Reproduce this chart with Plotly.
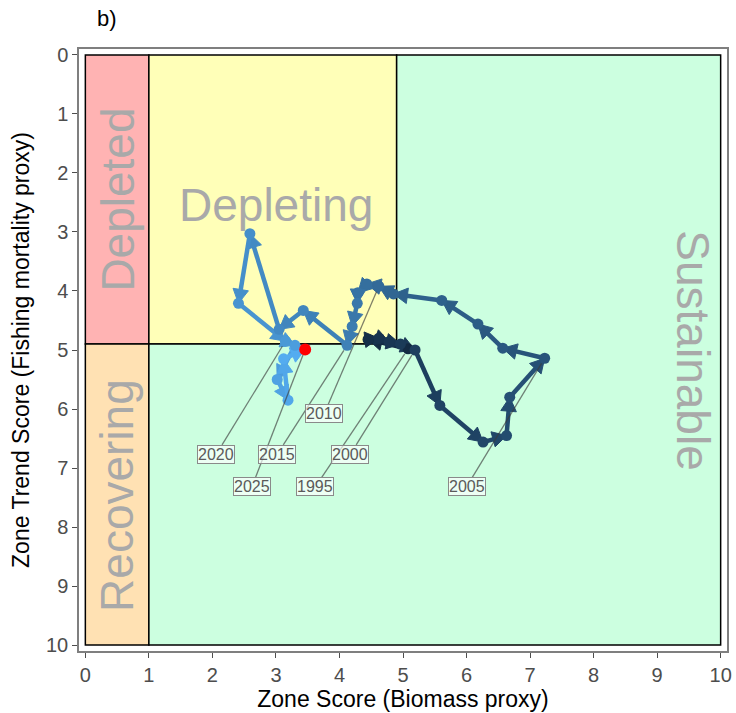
import math
import plotly.graph_objects as go

# Stock status trajectory, one point per year
years = list(range(1995, 2026))
biomass_score = [5.08, 4.45, 4.62, 4.78, 4.96, 5.19, 5.58, 6.26, 6.63, 6.68,
                 7.23, 6.57, 6.18, 5.61, 4.85, 4.62, 4.43, 4.29, 4.28, 4.20,
                 4.12, 3.43, 3.05, 2.59, 2.41, 3.15, 3.30, 3.02, 3.19, 3.12,
                 3.46]
trend_score = [4.98, 4.82, 4.80, 4.86, 4.90, 5.00, 5.94, 6.56, 6.45, 5.80,
               5.14, 4.97, 4.56, 4.16, 4.05, 3.92, 3.88, 4.03, 4.21, 4.60,
               4.92, 4.33, 4.65, 3.03, 4.21, 4.85, 4.92, 5.50, 5.85, 5.15,
               4.99]

# Year labels (repelled positions)
label_years = [1995, 2000, 2005, 2010, 2015, 2020, 2025]
label_x = [3.62, 4.17, 6.00, 3.76, 3.02, 2.06, 2.62]
label_y = [7.32, 6.77, 7.32, 6.08, 6.77, 6.77, 7.32]

# Zone boundaries
depleted_x = 1.0
split_x = 4.9
split_y = 4.9
axis_max = 10.0

zone_names = ["Depleted", "Depleting", "Recovering", "Sustainable"]
zone_colors = ["#FFB3B3", "#FFFFB8", "#FFE1B3", "#CCFFE0"]

FONT = "Liberation Sans, Arial, sans-serif"
x_range = [-0.1, 10.1]
y_range = [10.1, -0.1]
W, H = 736, 713
mg = dict(l=79, r=9, t=49, b=62)
px_x = (W - mg["l"] - mg["r"]) / (x_range[1] - x_range[0])
px_y = (H - mg["t"] - mg["b"]) / (y_range[0] - y_range[1])


# ---- colour ramp in CIELAB (low -> high) ----
def _to_lab(hexc):
    rgb = [int(hexc[i:i + 2], 16) / 255 for i in (1, 3, 5)]
    lin = [c / 12.92 if c <= 0.04045 else ((c + 0.055) / 1.055) ** 2.4 for c in rgb]
    X = 0.4124 * lin[0] + 0.3576 * lin[1] + 0.1805 * lin[2]
    Y = 0.2126 * lin[0] + 0.7152 * lin[1] + 0.0722 * lin[2]
    Z = 0.0193 * lin[0] + 0.1192 * lin[1] + 0.9505 * lin[2]
    ref = (0.95047, 1.0, 1.08883)
    f = [t ** (1 / 3) if t > 0.008856 else 7.787 * t + 16 / 116
         for t in (X / ref[0], Y / ref[1], Z / ref[2])]
    return (116 * f[1] - 16, 500 * (f[0] - f[1]), 200 * (f[1] - f[2]))


def _from_lab(L, a, b):
    fy = (L + 16) / 116
    fx = fy + a / 500
    fz = fy - b / 200
    ref = (0.95047, 1.0, 1.08883)
    xyz = [(t ** 3 if t ** 3 > 0.008856 else (t - 16 / 116) / 7.787) * r
           for t, r in zip((fx, fy, fz), ref)]
    X, Y, Z = xyz
    lin = [3.2406 * X - 1.5372 * Y - 0.4986 * Z,
           -0.9689 * X + 1.8758 * Y + 0.0415 * Z,
           0.0557 * X - 0.2040 * Y + 1.0570 * Z]
    out = []
    for c in lin:
        c = max(0.0, min(1.0, c))
        c = 12.92 * c if c <= 0.0031308 else 1.055 * c ** (1 / 2.4) - 0.055
        out.append(int(round(c * 255)))
    return "rgb(%d,%d,%d)" % tuple(out)


low, high = _to_lab("#132B43"), _to_lab("#56B1F7")
y0, y1 = min(years), max(years)
year_colors = []
for yr in years:
    t = (yr - y0) / (y1 - y0)
    year_colors.append(_from_lab(*[lo + (hi - lo) * t for lo, hi in zip(low, high)]))

fig = go.Figure()

# ---- zones ----
shapes = [
    dict(type="rect", x0=0, x1=depleted_x, y0=0, y1=split_y, fillcolor=zone_colors[0]),
    dict(type="rect", x0=depleted_x, x1=split_x, y0=0, y1=split_y, fillcolor=zone_colors[1]),
    dict(type="rect", x0=0, x1=depleted_x, y0=split_y, y1=axis_max, fillcolor=zone_colors[2]),
    dict(type="path",
         path=(f"M{depleted_x},{split_y} L{split_x},{split_y} L{split_x},0 "
               f"L{axis_max},0 L{axis_max},{axis_max} L{depleted_x},{axis_max} Z"),
         fillcolor=zone_colors[3]),
]
for s in shapes:
    s.update(xref="x", yref="y", layer="below", line=dict(color="black", width=1.5))

# ---- trajectory segments with closed arrowheads ----
head_len, head_hw = 14.0, 7.8
for i in range(len(years) - 1):
    xa, ya = biomass_score[i], trend_score[i]
    xb, yb = biomass_score[i + 1], trend_score[i + 1]
    col = year_colors[i]
    fig.add_trace(go.Scatter(x=[xa, xb], y=[ya, yb], mode="lines",
                             line=dict(color=col, width=4.5), hoverinfo="skip",
                             showlegend=False))
    sxa, sya, sxb, syb = xa * px_x, ya * px_y, xb * px_x, yb * px_y
    d = math.hypot(sxb - sxa, syb - sya)
    if d == 0:
        continue
    ux, uy = (sxb - sxa) / d, (syb - sya) / d
    bx, by = sxb - head_len * ux, syb - head_len * uy
    nx, ny = -uy, ux
    poly = [(sxb, syb), (bx + head_hw * nx, by + head_hw * ny),
            (bx - head_hw * nx, by - head_hw * ny), (sxb, syb)]
    fig.add_trace(go.Scatter(x=[p[0] / px_x for p in poly], y=[p[1] / px_y for p in poly],
                             mode="lines", fill="toself", fillcolor=col,
                             line=dict(color=col, width=1), hoverinfo="skip",
                             showlegend=False))

fig.add_trace(go.Scatter(x=biomass_score, y=trend_score, mode="markers",
                         marker=dict(color=year_colors, size=11, line=dict(width=0)),
                         showlegend=False))

# ---- leader lines from labels to their points ----
box_hw, box_hh, gap = 23.0, 9.5, 6.0
lx, ly = [], []
for yr, tx, ty in zip(label_years, label_x, label_y):
    k = years.index(yr)
    px, py = biomass_score[k] * px_x, trend_score[k] * px_y
    cx, cy = tx * px_x, ty * px_y
    dx, dy = px - cx, py - cy
    d = math.hypot(dx, dy)
    s = min(box_hw / abs(dx) if dx else 1e9, box_hh / abs(dy) if dy else 1e9)
    sx, sy = cx + dx * s, cy + dy * s
    ex, ey = px - dx / d * gap, py - dy / d * gap
    lx += [sx / px_x, ex / px_x, None]
    ly += [sy / px_y, ey / px_y, None]
fig.add_trace(go.Scatter(x=lx, y=ly, mode="lines",
                         line=dict(color="rgba(60,60,60,0.65)", width=1.3),
                         hoverinfo="skip", showlegend=False))

# latest year highlighted
fig.add_trace(go.Scatter(x=[biomass_score[-1]], y=[trend_score[-1]], mode="markers",
                         marker=dict(color="#FF0000", size=12), showlegend=False))

annotations = []
for yr, tx, ty in zip(label_years, label_x, label_y):
    annotations.append(dict(x=tx, y=ty, xref="x", yref="y", text=str(yr), showarrow=False,
                            font=dict(family=FONT, size=16, color="#5a5a5a"),
                            bgcolor="rgba(255,255,255,0.65)", bordercolor="#8a8a8a",
                            borderwidth=1, borderpad=0))

zone_font = dict(family=FONT, size=46, color="#A9A9A9")
annotations += [
    dict(x=0.5, y=2.45, text=zone_names[0], textangle=-90),
    dict(x=3.0, y=2.55, text=zone_names[1], textangle=0),
    dict(x=0.5, y=7.47, text=zone_names[2], textangle=-90),
    dict(x=9.56, y=5.0, text=zone_names[3], textangle=90),
]
for a in annotations[-4:]:
    a.update(xref="x", yref="y", showarrow=False, font=zone_font)

annotations.append(dict(x=0.024, y=1.05, xref="paper", yref="paper", text="b)",
                        showarrow=False, xanchor="left", yanchor="middle",
                        font=dict(family=FONT, size=22, color="black")))

axis_common = dict(showgrid=False, zeroline=False, showline=True, mirror=True,
                   linecolor="#7f7f7f", linewidth=1.5, ticks="outside", ticklen=5,
                   tickcolor="#4d4d4d", tickwidth=1, automargin=False,
                   tickfont=dict(family=FONT, size=20, color="#4d4d4d"),
                   tickmode="array", tickvals=list(range(0, 11)))

fig.update_layout(
    width=W, height=H, margin=mg, plot_bgcolor="white", paper_bgcolor="white",
    shapes=shapes, annotations=annotations, showlegend=False,
    xaxis=dict(range=x_range, title=dict(text="Zone Score (Biomass proxy)", standoff=0,
                                         font=dict(family=FONT, size=23, color="black")),
               **axis_common),
    yaxis=dict(range=y_range, title=dict(text="Zone Trend Score (Fishing mortality proxy)",
                                         standoff=10,
                                         font=dict(family=FONT, size=23, color="black")),
               **axis_common),
)

fig.write_html("out.html")
